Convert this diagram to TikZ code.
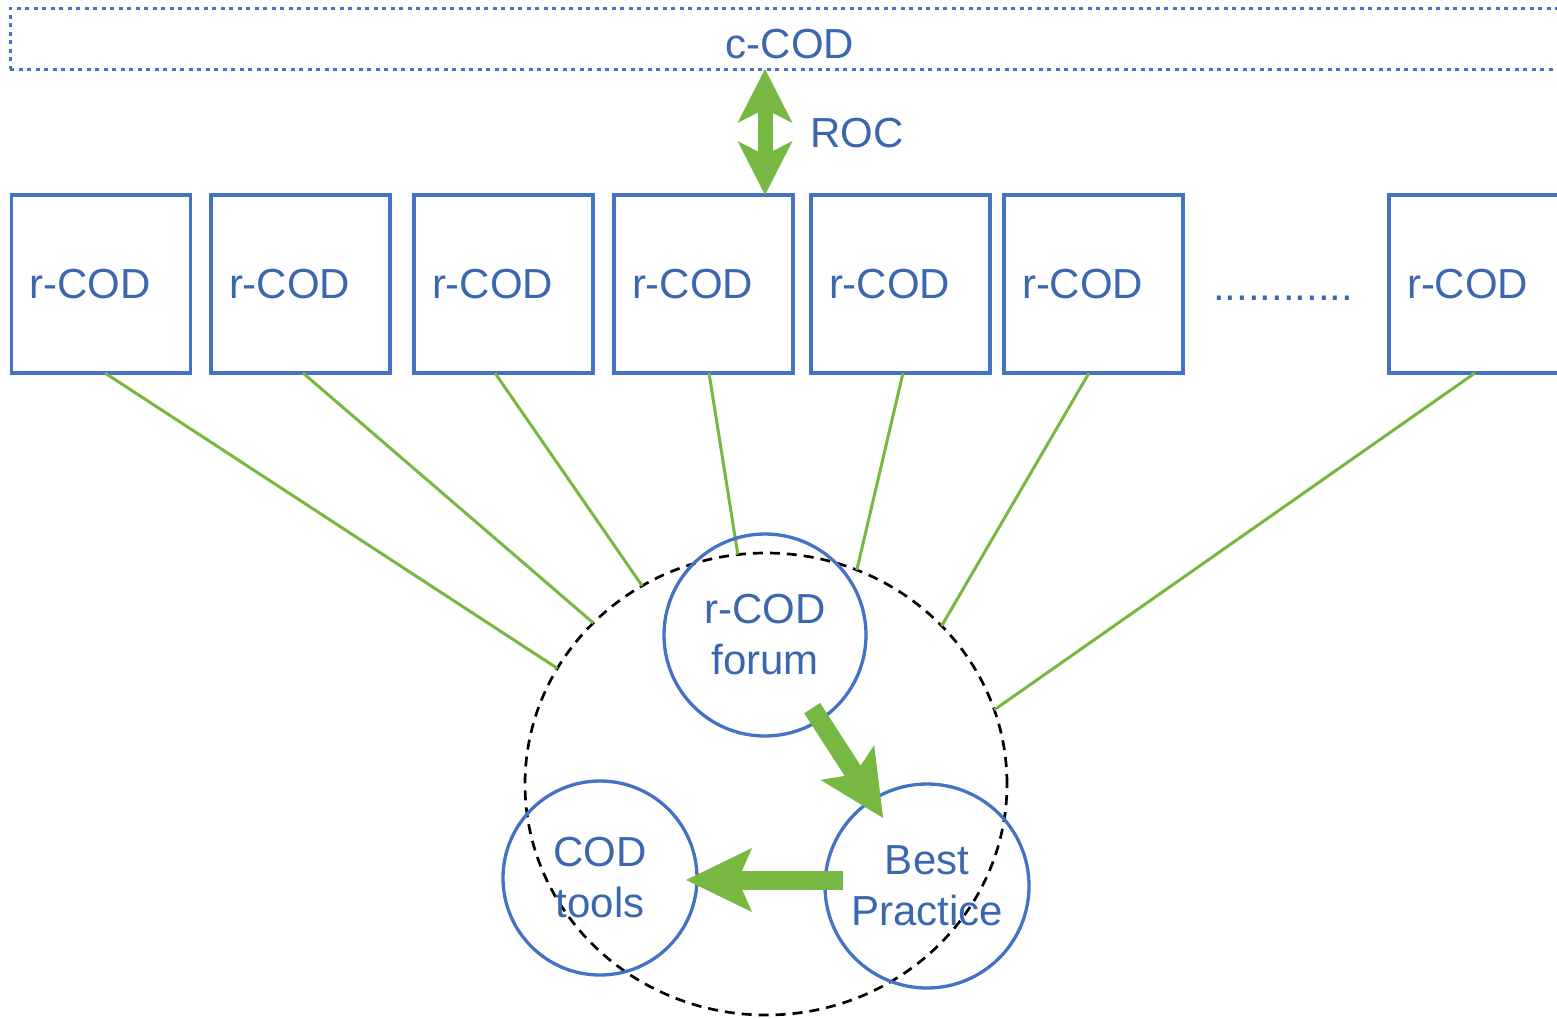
\documentclass[tikz,border=0pt]{standalone}
\usepackage{fontspec}
\setmainfont{Liberation Sans}
\usetikzlibrary{arrows.meta,shapes.geometric,calc}
\definecolor{cblue}{RGB}{68,114,196}
\definecolor{tblue}{RGB}{59,103,174}
\definecolor{cgreen}{RGB}{118,184,66}
\tikzset{
  smalltip/.tip={Stealth[length=54pt,width=55pt,inset=14pt,line width=0pt]},
  bigtip/.tip={Stealth[length=66pt,width=64pt,inset=14pt,line width=0pt]},
}
\begin{document}
\begin{tikzpicture}[x=1pt,y=-1pt,
  font=\fontsize{42}{51}\selectfont,
  rbox/.style={draw=cblue, line width=3.3pt, text=tblue, minimum width=179pt,
    minimum height=178pt, text width=143pt, inner xsep=18pt, inner ysep=0pt,
    align=left, outer sep=0pt},
  ccodbox/.style={draw=cblue, line width=3pt, dash pattern=on 4pt off 4.5pt,
    text=tblue, text height=39pt, text depth=0pt, inner sep=0pt, outer sep=0pt},
  plaintxt/.style={text=tblue, inner sep=0pt},
  rcirc/.style={circle, draw=cblue, line width=3.3pt, text=tblue, align=center,
    inner sep=0pt, outer sep=0pt},
  hubstyle/.style={ellipse, draw=black, line width=2.7pt,
    dash pattern=on 10pt off 7pt, inner sep=0pt, outer sep=0pt},
  gline/.style={draw=cgreen, line width=3pt},
  dblarrow/.style={draw=cgreen, line width=15pt, smalltip-smalltip},
  bigarrow/.style={draw=cgreen, line width=19pt, -bigtip},
]
\useasboundingbox (0,0) rectangle (1557,1018);
\clip (0,0) rectangle (1557,1018);

% c-COD band
\node[ccodbox, minimum width=1560pt, minimum height=61pt] (ccod) at (790,38.5) {c-COD};

% r-COD boxes
\node[rbox] (b1) at (101,284) {r-COD};
\node[rbox] (b2) at (300.5,284) {r-COD};
\node[rbox] (b3) at (503.5,284) {r-COD};
\node[rbox] (b4) at (703.5,284) {r-COD};
\node[rbox] (b5) at (900.5,284) {r-COD};
\node[rbox] (b6) at (1093.5,284) {r-COD};
\node[rbox] (b7) at (1478.5,284) {r-COD};
\node[plaintxt, anchor=base west] (dots) at (1213,300) {............};

% ROC double arrow
\coordinate (rocx) at (765,0);
\draw[dblarrow] (ccod.south -| rocx) -- (b4.north -| rocx);
\node[plaintxt, anchor=west] (roc) at (810,133) {ROC};

% hub
\node[hubstyle, minimum width=482pt, minimum height=462pt] (hub) at (766,784) {};

% connectors
\draw[gline] ([xshift=4pt]b1.south) -- (hub.151);
\draw[gline] ([xshift=2.5pt]b2.south) -- (hub.137);
\draw[gline] ([xshift=-8.5pt]b3.south) -- (hub.122);
\draw[gline] ([xshift=5.5pt]b4.south) -- (hub.97.6);
\draw[gline] ([xshift=2.5pt]b5.south) -- (hub.67.2);
\draw[gline] ([xshift=-4.5pt]b6.south) -- (hub.42.4);
\draw[gline] ([xshift=-3.5pt]b7.south) -- (hub.18);

% inner circles
\node[rcirc, minimum size=202pt] (forum) at (765,635) {r-COD\\forum};
\node[rcirc, minimum size=194pt] (tools) at (600,878) {COD\\tools};
\node[rcirc, minimum size=204pt] (best) at (927,886) {Best\\Practice};

% cycle arrows
\draw[bigarrow, shorten <=87pt, shorten >=81pt] (forum.center) -- (best.center);
\draw[bigarrow, shorten <=84pt, shorten >=86pt]
  ([yshift=6pt]best.center) -- ([yshift=6pt]best.center -| tools.center);
\end{tikzpicture}
\end{document}
